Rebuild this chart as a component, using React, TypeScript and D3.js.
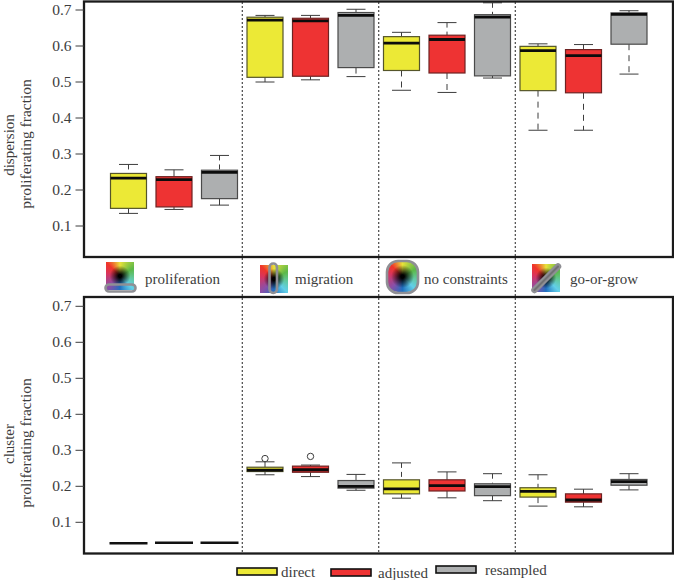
import React from 'react';
import * as d3 from 'd3';

const tickLabels = [0.1, 0.2, 0.3, 0.4, 0.5, 0.6, 0.7];
const scenarios = ['proliferation', 'migration', 'no constraints', 'go-or-grow'];
const methods = ['direct', 'adjusted', 'resampled'];
const methodColors = ['#ECE936', '#EE3333', '#ADAFB0'];
const methodStrokes = ['#55552a', '#6e2222', '#4a4a4a'];

const dispersionHi = [0.271, 0.256, 0.296, 0.685, 0.685, 0.702, 0.638, 0.665, 0.72, 0.606, 0.604, 0.698];
const dispersionQ3 = [0.246, 0.237, 0.255, 0.68, 0.677, 0.693, 0.626, 0.63, 0.687, 0.599, 0.59, 0.692];
const dispersionMed = [0.233, 0.229, 0.249, 0.672, 0.67, 0.685, 0.608, 0.618, 0.68, 0.587, 0.573, 0.688];
const dispersionQ1 = [0.149, 0.153, 0.176, 0.513, 0.516, 0.54, 0.532, 0.525, 0.517, 0.476, 0.47, 0.605];
const dispersionLo = [0.135, 0.146, 0.158, 0.5, 0.506, 0.515, 0.477, 0.471, 0.511, 0.366, 0.366, 0.522];

const clusterHi = [0.042, 0.043, 0.043, 0.268, 0.259, 0.233, 0.265, 0.24, 0.235, 0.232, 0.192, 0.235];
const clusterQ3 = [0.042, 0.043, 0.043, 0.253, 0.256, 0.216, 0.218, 0.218, 0.207, 0.196, 0.179, 0.219];
const clusterMed = [0.042, 0.043, 0.043, 0.245, 0.246, 0.2, 0.193, 0.202, 0.199, 0.186, 0.162, 0.213];
const clusterQ1 = [0.042, 0.043, 0.043, 0.241, 0.239, 0.195, 0.179, 0.187, 0.174, 0.17, 0.156, 0.203];
const clusterLo = [0.042, 0.043, 0.043, 0.232, 0.227, 0.189, 0.167, 0.168, 0.16, 0.145, 0.143, 0.19];
const clusterOutliers: [number, number][] = [[3, 0.277], [4, 0.283]];

const FRAME_L = 84;
const FRAME_R = 673;
const x = d3.scaleLinear().domain([0, 11]).range([128.5, 629]);
const BOX_W = 36;
const CAP_W = 18;
const serif = '"Liberation Serif", serif';
const ink = '#3d3d3d';

type PanelProps = {
  top: number; bottom: number; y: d3.ScaleLinear<number, number>;
  hi: number[]; q3: number[]; med: number[]; q1: number[]; lo: number[];
  outliers?: [number, number][]; title: string; titleY: number;
};

function Panel({ top, bottom, y, hi, q3, med, q1, lo, outliers = [], title, titleY }: PanelProps) {
  return (
    <g>
      {hi.map((_, i) => {
        const cx = x(i);
        const c = i % 3;
        const upper = y(q3[i]) - y(hi[i]);
        const lower = y(lo[i]) - y(q1[i]);
        const flat = y(q1[i]) - y(q3[i]) < 1;
        if (flat) {
          return <line key={i} x1={cx - BOX_W / 2 - 1} x2={cx + BOX_W / 2 + 1} y1={y(med[i])} y2={y(med[i])} stroke="#111" strokeWidth={2.4} />;
        }
        return (
          <g key={i}>
            <line x1={cx} x2={cx} y1={y(hi[i])} y2={y(q3[i])} stroke={ink} strokeWidth={1} strokeDasharray={upper > 8 ? '5 4' : undefined} />
            <line x1={cx} x2={cx} y1={y(q1[i])} y2={y(lo[i])} stroke={ink} strokeWidth={1} strokeDasharray={lower > 8 ? '6 5' : undefined} />
            <line x1={cx - CAP_W / 2 - 0.5} x2={cx + CAP_W / 2 + 0.5} y1={y(hi[i])} y2={y(hi[i])} stroke={ink} strokeWidth={1} />
            <line x1={cx - CAP_W / 2 - 0.5} x2={cx + CAP_W / 2 + 0.5} y1={y(lo[i])} y2={y(lo[i])} stroke={ink} strokeWidth={1} />
            <rect x={cx - BOX_W / 2} width={BOX_W} y={y(q3[i])} height={y(q1[i]) - y(q3[i])} fill={methodColors[c]} stroke={methodStrokes[c]} strokeWidth={1.2} />
            <line x1={cx - BOX_W / 2} x2={cx + BOX_W / 2} y1={y(med[i])} y2={y(med[i])} stroke="#0c0c0c" strokeWidth={2.8} />
          </g>
        );
      })}
      {outliers.map(([i, v]) => (
        <circle key={i} cx={x(i)} cy={y(v)} r={3.2} fill="#fff" stroke={ink} strokeWidth={1} />
      ))}
      <rect x={FRAME_L} y={top} width={FRAME_R - FRAME_L} height={bottom - top} fill="none" stroke="#1a1a1a" strokeWidth={2.3} />
      {tickLabels.map(t => (
        <g key={t}>
          <line x1={75.5} x2={FRAME_L} y1={y(t)} y2={y(t)} stroke={ink} strokeWidth={1} />
          <text x={71.5} y={y(t) + 4.5} textAnchor="end" fontFamily={serif} fontSize={15.5} fill={ink}>{t.toFixed(1)}</text>
        </g>
      ))}
      <text transform={`translate(14,${titleY}) rotate(-90)`} textAnchor="middle" fontFamily={serif} fontSize={15} fill={ink}>{title}</text>
      <text transform={`translate(31,${titleY - 1}) rotate(-90)`} textAnchor="middle" fontFamily={serif} fontSize={15.5} fill={ink}>proliferating fraction</text>
    </g>
  );
}

const iconBg =
  'radial-gradient(circle at 50% 50%, #000 0%, #000 8%, rgba(0,0,0,0) 52%), conic-gradient(from 0deg, #e8e23a 0deg, #5cb848 60deg, #62c9a0 100deg, #62cfe8 135deg, #1f6fc0 180deg, #8a4fa8 225deg, #d8345f 280deg, #f0352a 315deg, #e8e23a 360deg)';

function ColourSquare({ px, py, s, radius = 0 }: { px: number; py: number; s: number; radius?: number }) {
  return (
    <foreignObject x={px} y={py} width={s} height={s}>
      <div style={{ width: s, height: s, background: iconBg, borderRadius: radius }} />
    </foreignObject>
  );
}

const capsule = { fill: 'none', stroke: '#8f8f94', strokeWidth: 2.6 };

const scenarioLabelX = [145, 295, 424, 570];
const legendRectX = [237, 331, 436];
const legendRectY = [568, 569, 566];
const legendTextX = [281, 378, 485];
const legendTextY = [577, 578, 575];

export default function App() {
  const yTop = d3.scaleLinear().domain([0.1, 0.7]).range([226, 10]);
  const yBottom = d3.scaleLinear().domain([0.1, 0.7]).range([522.3, 306.3]);
  const separators = [x(2.5), x(5.5), x(8.5)];
  return (
    <svg width={674} height={580} style={{ position: 'fixed', left: 0, top: 0, background: '#fff' }}>
      <ColourSquare px={106} py={262} s={28} />
      <rect x={105.5} y={284.5} width={30} height={7} rx={3.5} {...capsule} />
      <ColourSquare px={260} py={265} s={28} />
      <rect x={269.5} y={263.5} width={7.5} height={29.5} rx={3.7} {...capsule} />
      <ColourSquare px={387} py={261} s={31} radius={11} />
      <rect x={387} y={261} width={31} height={32} rx={11} {...capsule} />
      <ColourSquare px={532} py={264} s={28} />
      <line x1={534.5} y1={290} x2={558} y2={266.5} stroke="#8f8f94" strokeWidth={6.5} strokeLinecap="round" />
      <line x1={534.5} y1={290} x2={558} y2={266.5} stroke="#555" strokeWidth={2} strokeLinecap="round" opacity={0.5} />

      {scenarios.map((s, i) => (
        <text key={s} x={scenarioLabelX[i]} y={284} fontFamily={serif} fontSize={15} fill={ink}>{s}</text>
      ))}

      <Panel top={1.5} bottom={257} y={yTop} hi={dispersionHi} q3={dispersionQ3} med={dispersionMed} q1={dispersionQ1} lo={dispersionLo} title="dispersion" titleY={145} />
      <Panel top={297} bottom={553.5} y={yBottom} hi={clusterHi} q3={clusterQ3} med={clusterMed} q1={clusterQ1} lo={clusterLo} outliers={clusterOutliers} title="cluster" titleY={444} />

      {separators.map(sx => (
        <line key={sx} x1={sx} x2={sx} y1={2} y2={552} stroke="#222" strokeWidth={1} strokeDasharray="2 2" />
      ))}

      {methods.map((m, i) => (
        <g key={m}>
          <rect x={legendRectX[i]} y={legendRectY[i]} width={40} height={7} fill={methodColors[i]} stroke="#111" strokeWidth={1.6} />
          <text x={legendTextX[i]} y={legendTextY[i]} fontFamily={serif} fontSize={15} fill={ink}>{m}</text>
        </g>
      ))}
    </svg>
  );
}
